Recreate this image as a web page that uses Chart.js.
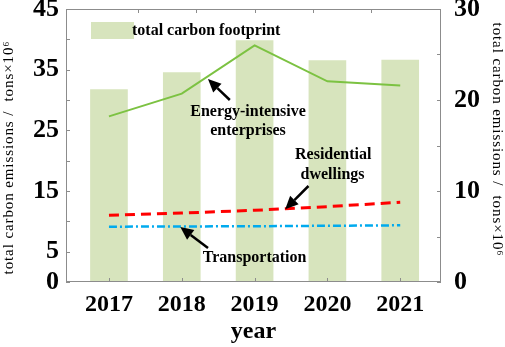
<!DOCTYPE html>
<html><head><meta charset="utf-8">
<script src="https://cdn.jsdelivr.net/npm/chart.js@4"></script>
<style>html,body{margin:0;padding:0;background:#fff}#wrap{width:505px;height:347px}</style>
</head><body><div id="wrap"><canvas id="c" width="505" height="347"></canvas></div>
<script>
const years = [2017, 2018, 2019, 2020, 2021];
const totalFootprint = [31.7, 34.5, 39.8, 36.5, 36.6];
const energyIntensive = [18.2, 20.7, 26.0, 22.05, 21.6];
const residential = [7.33, 7.58, 7.88, 8.28, 8.76];
const transportation = [6.08, 6.1, 6.13, 6.18, 6.23];
const leftTicks = [0, 5, 10, 15, 20, 25, 30, 35, 40, 45];
const leftLabels = [0, 5, 15, 25, 35, 45];
const rightTicks = [0, 5, 10, 15, 20, 25, 30];
const rightLabels = [0, 10, 20, 30];
const topTicks = [2017.4, 2018.2, 2019, 2019.8, 2020.6];
const yTitle = 'total carbon emissions /  tons×10⁶';
const xTitle = 'year';

const SERIF = '"Liberation Serif", "Times New Roman", serif';
const pts = arr => arr.map((v, i) => ({x: years[i], y: v}));

const annotations = [
  {text: 'Energy-intensive', x: 2018.91, y: 18.7},
  {text: 'enterprises', x: 2018.91, y: 16.6},
  {text: 'Residential', x: 2020.08, y: 13.96},
  {text: 'dwellings', x: 2020.07, y: 11.76},
  {text: 'Transportation', x: 2019.0, y: 2.64}
];
const arrows = [
  {from: [2018.66, 20.0], to: [2018.36, 22.3]},
  {from: [2019.74, 10.55], to: [2019.42, 8.0]},
  {from: [2018.36, 3.74], to: [2017.98, 6.04]}
];

const decor = {
  id: 'decor',
  afterDatasetsDraw(chart) {
    const ctx = chart.ctx, a = chart.chartArea;
    const xs = chart.scales.x, yl = chart.scales.y, yr = chart.scales.y1;
    ctx.save();
    // frame
    ctx.strokeStyle = '#8c8c8c';
    ctx.lineWidth = 1;
    ctx.strokeRect(a.left + 0.5, a.top + 0.5, a.right - a.left - 1, a.bottom - a.top - 1);
    ctx.beginPath();
    leftTicks.forEach(v => { const y = Math.round(yl.getPixelForValue(v)) + 0.5; ctx.moveTo(a.left, y); ctx.lineTo(a.left + 4, y); });
    rightTicks.forEach(v => { const y = Math.round(yr.getPixelForValue(v)) + 0.5; ctx.moveTo(a.right, y); ctx.lineTo(a.right - 4, y); });
    years.forEach(v => { const x = Math.round(xs.getPixelForValue(v)) + 0.5; ctx.moveTo(x, a.bottom); ctx.lineTo(x, a.bottom - 4); });
    topTicks.forEach(v => { const x = Math.round(xs.getPixelForValue(v)) + 0.5; ctx.moveTo(x, a.top); ctx.lineTo(x, a.top + 4); });
    ctx.stroke();
    // legend
    const lx = a.left + 25, ly = a.top + 13;
    ctx.fillStyle = '#d7e4bd';
    ctx.fillRect(lx, ly, 43, 17);
    ctx.fillStyle = '#000';
    ctx.font = 'bold 16px ' + SERIF;
    ctx.textAlign = 'left';
    ctx.textBaseline = 'middle';
    ctx.fillText('total carbon footprint', lx + 41, ly + 8.5);
    // annotations
    ctx.textAlign = 'center';
    annotations.forEach(t => ctx.fillText(t.text, xs.getPixelForValue(t.x), yr.getPixelForValue(t.y)));
    // arrows
    arrows.forEach(ar => {
      const x1 = xs.getPixelForValue(ar.from[0]), y1 = yr.getPixelForValue(ar.from[1]);
      const x2 = xs.getPixelForValue(ar.to[0]), y2 = yr.getPixelForValue(ar.to[1]);
      const ang = Math.atan2(y2 - y1, x2 - x1);
      const hl = 13, hw = 6;
      const bx = x2 - hl * Math.cos(ang), by = y2 - hl * Math.sin(ang);
      ctx.strokeStyle = '#000';
      ctx.lineWidth = 2.5;
      ctx.beginPath(); ctx.moveTo(x1, y1); ctx.lineTo(bx, by); ctx.stroke();
      ctx.beginPath();
      ctx.moveTo(x2, y2);
      ctx.lineTo(bx + hw * Math.sin(ang), by - hw * Math.cos(ang));
      ctx.lineTo(bx - hw * Math.sin(ang), by + hw * Math.cos(ang));
      ctx.closePath(); ctx.fillStyle = '#000'; ctx.fill();
    });
    // axis titles
    const cy = (a.top + a.bottom) / 2;
    ctx.font = '15px ' + SERIF;
    ctx.letterSpacing = '0.9px';
    ctx.textAlign = 'center';
    ctx.textBaseline = 'middle';
    ctx.save(); ctx.translate(9, cy + 12); ctx.rotate(-Math.PI / 2); ctx.fillText(yTitle, 0, 0); ctx.restore();
    ctx.save(); ctx.translate(497, cy - 6); ctx.rotate(Math.PI / 2); ctx.fillText(yTitle, 0, 0); ctx.restore();
    ctx.letterSpacing = '0px';
    ctx.font = 'bold 24px ' + SERIF;
    ctx.textBaseline = 'alphabetic';
    ctx.fillText(xTitle, (a.left + a.right) / 2, 338);
    ctx.restore();
  }
};

new Chart(document.getElementById('c'), {
  type: 'bar',
  data: {
    datasets: [
      {type: 'line', label: 'Energy-intensive enterprises', data: pts(energyIntensive), yAxisID: 'y1',
       borderColor: '#7cc242', borderWidth: 2, pointRadius: 0, tension: 0, order: 1},
      {type: 'line', label: 'Residential dwellings', data: pts(residential), yAxisID: 'y1',
       borderColor: '#ff0000', borderWidth: 3, borderDash: [10, 6], pointRadius: 0, tension: 0, order: 1},
      {type: 'line', label: 'Transportation', data: pts(transportation), yAxisID: 'y1',
       borderColor: '#00aaee', borderWidth: 2.5, borderDash: [8, 3, 2, 3], pointRadius: 0, tension: 0, order: 1},
      {type: 'bar', label: 'total carbon footprint', data: pts(totalFootprint), yAxisID: 'y',
       backgroundColor: '#d7e4bd', barThickness: 37, order: 2}
    ]
  },
  options: {
    responsive: false,
    animation: false,
    devicePixelRatio: 1,
    layout: {padding: {top: 9, left: 0, right: 0, bottom: 0}},
    plugins: {legend: {display: false}, tooltip: {enabled: false}},
    scales: {
      x: {
        type: 'linear', min: 2016.41, max: 2021.56, offset: false,
        afterBuildTicks: s => { s.ticks = years.map(v => ({value: v})); },
        afterFit: s => { s.height = 65; s.paddingLeft = 0; s.paddingRight = 0; },
        grid: {display: false, drawTicks: false}, border: {display: false},
        ticks: {padding: 8, color: '#000', font: {family: SERIF, size: 24, weight: 'bold'}, callback: v => String(v), maxRotation: 0, autoSkip: false}
      },
      y: {
        position: 'left', min: 0, max: 45,
        afterBuildTicks: s => { s.ticks = leftTicks.map(v => ({value: v})); },
        afterFit: s => { s.width = 66; s.paddingTop = 0; s.paddingBottom = 0; },
        grid: {display: false, drawTicks: false}, border: {display: false},
        ticks: {padding: 7, color: '#000', font: {family: SERIF, size: 26, weight: 'bold'}, autoSkip: false,
                callback: v => leftLabels.includes(v) ? String(v) : ''}
      },
      y1: {
        position: 'right', min: 0, max: 30,
        afterBuildTicks: s => { s.ticks = rightTicks.map(v => ({value: v})); },
        afterFit: s => { s.width = 64; s.paddingTop = 0; s.paddingBottom = 0; },
        grid: {display: false, drawTicks: false}, border: {display: false},
        ticks: {padding: 13, color: '#000', font: {family: SERIF, size: 26, weight: 'bold'}, autoSkip: false,
                callback: v => rightLabels.includes(v) ? String(v) : ''}
      }
    }
  },
  plugins: [decor]
});
</script></body></html>
